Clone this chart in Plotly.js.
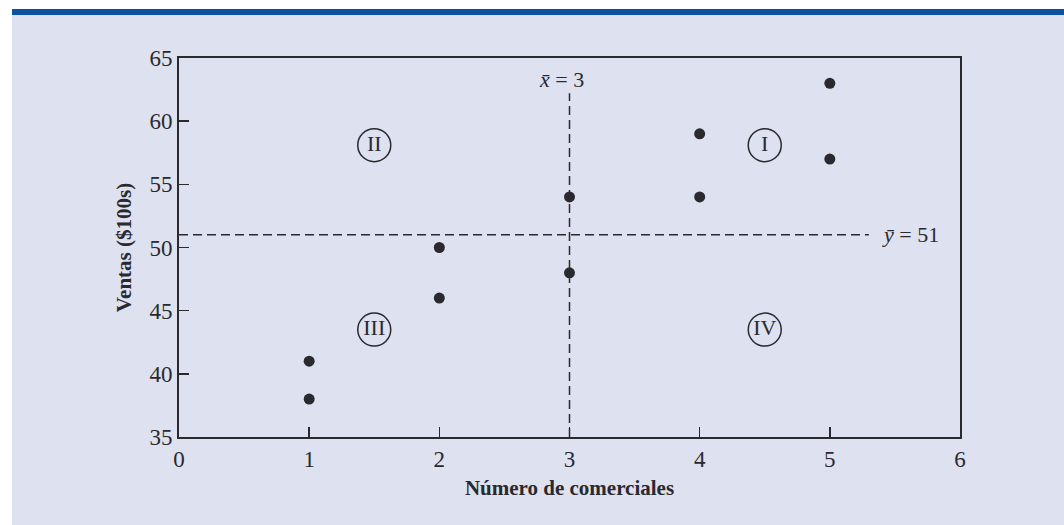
<!DOCTYPE html>
<html>
<head>
<meta charset="utf-8">
<script src="https://cdn.plot.ly/plotly-3.0.1.min.js"></script>
<style>
  html, body { margin: 0; padding: 0; background: #ffffff; }
  #chart { width: 1064px; height: 525px; }
</style>
</head>
<body>
<div id="chart"></div>
<script>
// Número de comerciales vs ventas
const comerciales = [1, 1, 2, 2, 3, 3, 4, 4, 5, 5];
const ventas = [38, 41, 46, 50, 48, 54, 54, 59, 57, 63];

const xMedia = 3;
const yMedia = 51;

// Cuadrantes
const cuadX = [4.5, 1.5, 1.5, 4.5];
const cuadY = [58.1, 58.1, 43.5, 43.5];
const cuadTxt = ['I', 'II', 'III', 'IV'];

const xTicks = [0, 1, 2, 3, 4, 5, 6];
const yTicks = [35, 40, 45, 50, 55, 60, 65];

const ink = '#2a292e';
const serif = 'Liberation Serif, Times New Roman, serif';

const traces = [
    {
        x: [0, 5.3],
        y: [yMedia, yMedia],
        mode: 'lines',
        line: { color: ink, width: 1.5, dash: '9px,5px' },
        hoverinfo: 'skip'
    },
    {
        x: [xMedia, xMedia],
        y: [35, 62.2],
        mode: 'lines',
        line: { color: ink, width: 1.5, dash: '9px,5px' },
        hoverinfo: 'skip'
    },
    {
        x: cuadX,
        y: cuadY,
        text: cuadTxt,
        mode: 'markers+text',
        textposition: 'middle center',
        textfont: { family: serif, size: 22, color: ink },
        marker: { symbol: 'circle-open', size: 33, color: ink, line: { width: 1.5, color: ink } },
        hoverinfo: 'skip'
    },
    {
        x: comerciales,
        y: ventas,
        mode: 'markers',
        marker: { size: 11, color: ink }
    }
];

const layout = {
    width: 1064,
    height: 525,
    showlegend: false,
    margin: { l: 179, r: 104, t: 58, b: 88 },
    paper_bgcolor: '#dee1ef',
    plot_bgcolor: '#dee1ef',
    font: { family: serif, size: 22, color: ink },
    xaxis: {
        range: [0, 6],
        tickvals: xTicks,
        ticks: 'inside',
        ticklen: 10,
        tickwidth: 1.5,
        tickcolor: ink,
        showgrid: false,
        zeroline: false,
        showline: true,
        linecolor: ink,
        linewidth: 2,
        mirror: true,
        tickfont: { family: serif, size: 23, color: ink },
        title: { text: '<b>Número de comerciales</b>', font: { family: serif, size: 21, color: ink }, standoff: 10 }
    },
    yaxis: {
        range: [35, 65],
        tickvals: yTicks,
        ticks: 'inside',
        ticklen: 10,
        tickwidth: 1.5,
        tickcolor: ink,
        showgrid: false,
        zeroline: false,
        showline: true,
        linecolor: ink,
        linewidth: 2,
        mirror: true,
        tickfont: { family: serif, size: 23, color: ink },
        title: { text: '<b>Ventas ($100s)</b>', font: { family: serif, size: 21, color: ink }, standoff: 12 }
    },
    annotations: [
        { x: xMedia - 0.06, y: 63.3, xref: 'x', yref: 'y', text: '<i>x̄</i> = 3', showarrow: false,
          font: { family: serif, size: 22, color: ink } },
        { x: 5.62, y: yMedia, xref: 'x', yref: 'y', text: '<i>ȳ</i> = 51', showarrow: false,
          font: { family: serif, size: 22, color: ink } }
    ],
    shapes: [
        // franja blanca superior e izquierda, barra azul
        { type: 'rect', xref: 'paper', yref: 'paper', x0: -0.25, x1: 1.2, y0: 1.1135, y1: 1.2,
          fillcolor: '#ffffff', line: { width: 0 } },
        { type: 'rect', xref: 'paper', yref: 'paper', x0: -0.25, x1: -0.2138, y0: -0.3, y1: 1.2,
          fillcolor: '#ffffff', line: { width: 0 } },
        { type: 'rect', xref: 'paper', yref: 'paper', x0: -0.2138, x1: 1.2, y0: 1.1135, y1: 1.1293,
          fillcolor: '#0b53a1', line: { width: 0 } }
    ]
};

Plotly.newPlot('chart', traces, layout, { displayModeBar: false, staticPlot: true });
</script>
</body>
</html>
